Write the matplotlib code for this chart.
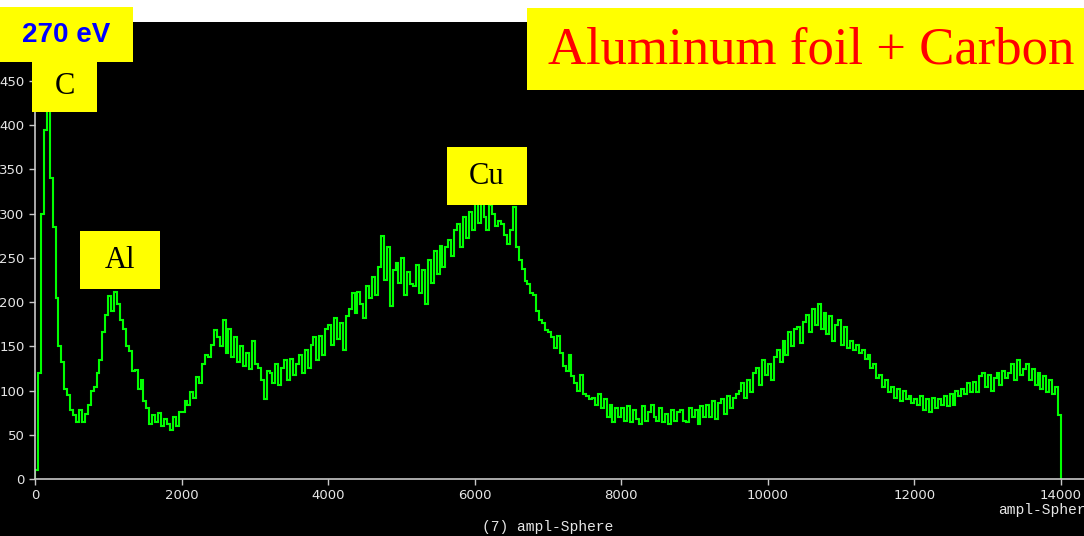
import matplotlib
matplotlib.use("Agg")
import matplotlib.pyplot as plt
from matplotlib.patches import Rectangle
import numpy as np

# histogram bins: 0 .. 14000 in steps of 40
bin_width = 40
x_max = 14000
counts = [
    10, 120, 300, 395, 420, 340, 285, 205, 150, 132,
    102, 95, 78, 72, 64, 78, 65, 73, 84, 100,
    104, 120, 135, 166, 185, 207, 190, 212, 198, 180,
    170, 150, 145, 122, 123, 102, 112, 88, 80, 62,
    72, 64, 75, 60, 68, 62, 55, 70, 60, 76,
    76, 88, 84, 98, 92, 115, 108, 130, 140, 138,
    152, 168, 160, 150, 180, 142, 170, 138, 160, 132,
    150, 128, 142, 124, 156, 130, 126, 112, 90, 122,
    120, 108, 130, 106, 126, 134, 112, 136, 118, 130,
    140, 120, 146, 126, 152, 160, 134, 162, 140, 170,
    174, 152, 182, 158, 176, 146, 184, 192, 210, 188,
    212, 198, 182, 218, 205, 228, 208, 240, 275, 225,
    262, 196, 236, 244, 222, 250, 208, 234, 220, 218,
    242, 210, 236, 198, 248, 222, 258, 232, 264, 240,
    262, 270, 252, 282, 288, 262, 296, 272, 302, 282,
    312, 290, 318, 296, 282, 310, 300, 286, 292, 288,
    276, 266, 282, 308, 262, 248, 238, 224, 220, 210,
    208, 190, 180, 176, 168, 166, 160, 148, 162, 142,
    128, 122, 140, 116, 108, 100, 118, 96, 94, 90,
    92, 84, 96, 80, 90, 70, 84, 64, 80, 70,
    80, 66, 82, 64, 78, 68, 62, 82, 66, 76,
    84, 70, 66, 80, 64, 74, 62, 78, 66, 76,
    78, 66, 64, 80, 70, 78, 62, 82, 70, 84,
    70, 88, 68, 86, 90, 74, 94, 80, 92, 96,
    100, 108, 92, 112, 98, 120, 126, 106, 134, 118,
    130, 112, 138, 146, 132, 156, 140, 166, 150, 170,
    172, 154, 178, 186, 166, 192, 174, 198, 170, 188,
    164, 184, 156, 174, 180, 152, 172, 148, 156, 146,
    152, 142, 146, 136, 140, 126, 130, 114, 118, 104,
    112, 98, 104, 92, 102, 88, 100, 90, 94, 86,
    90, 84, 94, 78, 90, 76, 92, 80, 90, 84,
    94, 82, 96, 84, 100, 94, 102, 96, 108, 98,
    110, 98, 116, 120, 104, 118, 100, 114, 120, 106,
    122, 114, 120, 130, 112, 134, 118, 124, 130, 112,
    124, 106, 120, 102, 116, 98, 112, 96, 104, 72,
]
edges = np.arange(0, x_max + bin_width, bin_width)

x_ticks = [0, 2000, 4000, 6000, 8000, 10000, 12000, 14000]
y_ticks = [0, 50, 100, 150, 200, 250, 300, 350, 400, 450]

# (label, left px, top px, width px, height px)
peak_labels = [
    ("C", 32, 62, 65, 50),
    ("Al", 80, 231, 80, 58),
    ("Cu", 447, 147, 80, 58),
]

W, H = 1084, 536
fig = plt.figure(figsize=(W / 100, H / 100), dpi=100, facecolor="black")

def box(x, y, w, h, color):
    # rectangle given in pixel coords from the top-left corner
    r = Rectangle((x / W, 1 - (y + h) / H), w / W, h / H, transform=fig.transFigure,
                  facecolor=color, edgecolor="none", zorder=5)
    fig.add_artist(r)

# white strip above the plot area
box(0, 0, W, 22, "white")

ax = fig.add_axes([35 / W, (H - 479) / H, (W - 35) / W, (479 - 22) / H])
ax.set_facecolor("black")
ax.stairs(counts, edges, baseline=0, color="#00ff00", lw=1.5)

ax.set_xlim(0, x_max * (W - 35) / 1026)
ax.set_ylim(0, (479 - 22) / 0.8844)
ax.set_xticks(x_ticks)
ax.set_yticks(y_ticks)
for s in ["top", "right"]:
    ax.spines[s].set_visible(False)
for s in ["left", "bottom"]:
    ax.spines[s].set_color("#c8c8c8")
    ax.spines[s].set_linewidth(1.2)
ax.tick_params(colors="#c8c8c8", labelcolor="#e6e6e6", labelsize=9.5, length=4, width=1)

fig.text(998 / W, 1 - 510 / H, "ampl-Spher", family="Liberation Mono", fontsize=10.5,
         color="#e6e6e6", va="center", ha="left")
fig.text(548 / W, 1 - 527 / H, "(7) ampl-Sphere", family="Liberation Mono", fontsize=10.5,
         color="#e6e6e6", va="center", ha="center")

# yellow label boxes
box(0, 7, 133, 55, "yellow")
fig.text(66 / W, 1 - 35 / H, "270 eV", family="Liberation Sans", weight="bold",
         fontsize=20, color="#0000ff", ha="center", va="center", zorder=6)

box(527, 8, W - 527, 82, "yellow")
fig.text(548 / W, 1 - 50 / H, "Aluminum foil + Carbon", family="Liberation Serif",
         fontsize=38, color="red", ha="left", va="center", zorder=6)

for label, px, py, pw, ph in peak_labels:
    box(px, py, pw, ph, "yellow")
    fig.text((px + pw / 2) / W, 1 - (py + ph / 2) / H, label, family="Liberation Serif",
             fontsize=22, color="black", ha="center", va="center", zorder=6)

fig.savefig("out.png", dpi=100, facecolor=fig.get_facecolor())
